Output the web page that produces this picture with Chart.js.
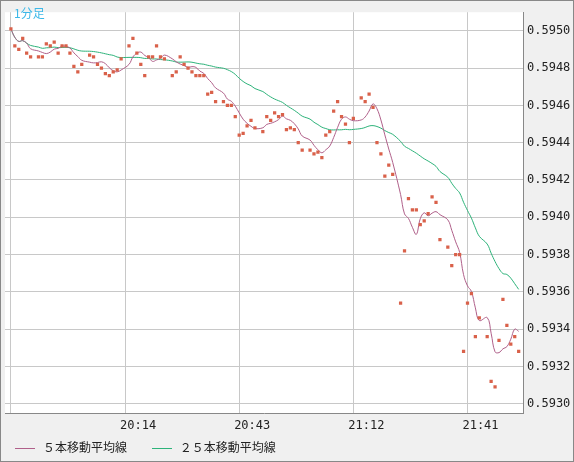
<!DOCTYPE html>
<html>
<head>
<meta charset="utf-8">
<script src="https://cdn.jsdelivr.net/npm/chart.js@4"></script>
<style>
  body { margin: 0; background: #f0f0f0; }
  #wrap { position: relative; width: 574px; height: 462px; box-sizing: border-box; border: 1px solid #888; }
  #title { position: absolute; left: 13px; top: 3px; color: #3cb8e8; font: 12px "Noto Sans CJK JP"; }
  #legend { position: absolute; left: 14px; top: 437px; font: 12px "Noto Sans CJK JP"; color: #222; }
  #legend span.ln { display: inline-block; width: 20px; height: 1px; vertical-align: middle; margin-right: 8px; }
</style>
</head>
<body>
<div id="wrap">
  <canvas id="c" width="572" height="460"></canvas>
  <div id="title">1分足</div>
  <div id="legend">
    <span class="ln" style="background:#b0608a"></span>５本移動平均線
    <span class="ln" style="background:#2db37a;margin-left:22px"></span>２５本移動平均線
  </div>
</div>
<script>
// minutes and closing prices
const times = ['19:45','19:46','19:47','19:48','19:49','19:50','19:52','19:53','19:54','19:55','19:56','19:57','19:58','19:59','20:00','20:01','20:02','20:03','20:05','20:06','20:07','20:08','20:09','20:10','20:11','20:12','20:13','20:15','20:16','20:17','20:18','20:19','20:20','20:21','20:22','20:23','20:24','20:26','20:27','20:28','20:29','20:30','20:31','20:32','20:33','20:34','20:35','20:36','20:37','20:39','20:40','20:41','20:42','20:43','20:44','20:45','20:46','20:47','20:49','20:50','20:51','20:52','20:53','20:54','20:55','20:56','20:57','20:58','20:59','21:01','21:02','21:03','21:04','21:05','21:06','21:07','21:08','21:09','21:10','21:11','21:12','21:14','21:15','21:16','21:17','21:18','21:19','21:20','21:21','21:22','21:24','21:25','21:26','21:27','21:28','21:29','21:30','21:31','21:32','21:33','21:34','21:36','21:37','21:38','21:39','21:40','21:41','21:42','21:43','21:44','21:46','21:47','21:48','21:49','21:50','21:51','21:52','21:53','21:54'];
const prices = [0.59501,0.59492,0.59490,0.59496,0.59488,0.59486,0.59486,0.59486,0.59493,0.59492,0.59494,0.59488,0.59492,0.59492,0.59488,0.59481,0.59478,0.59482,0.59487,0.59486,0.59482,0.59480,0.59477,0.59476,0.59478,0.59479,0.59485,0.59492,0.59496,0.59488,0.59482,0.59476,0.59486,0.59486,0.59492,0.59486,0.59485,0.59476,0.59478,0.59486,0.59482,0.59480,0.59478,0.59476,0.59476,0.59476,0.59466,0.59467,0.59462,0.59462,0.59460,0.59460,0.59454,0.59444,0.59445,0.59449,0.59452,0.59448,0.59446,0.59454,0.59452,0.59456,0.59454,0.59455,0.59447,0.59448,0.59447,0.59440,0.59436,0.59436,0.59434,0.59435,0.59432,0.59444,0.59446,0.59457,0.59462,0.59454,0.59450,0.59440,0.59453,0.59464,0.59462,0.59466,0.59459,0.59440,0.59434,0.59422,0.59428,0.59423,0.59354,0.59382,0.59410,0.59404,0.59404,0.59396,0.59398,0.59402,0.59411,0.59408,0.59388,0.59384,0.59374,0.59380,0.59380,0.59328,0.59354,0.59359,0.59336,0.59346,0.59336,0.59312,0.59309,0.59334,0.59356,0.59342,0.59332,0.59336,0.59328];
const tickLabels = ['19:45','20:14','20:43','21:12','21:41'];
const priceTicks = [0.5930,0.5932,0.5934,0.5936,0.5938,0.5940,0.5942,0.5944,0.5946,0.5948,0.5950];

const toMin = s => { const [h, m] = s.split(':').map(Number); return (h * 60 + m) - (19 * 60 + 45); };
const xs = times.map(toMin);

const movingAvg = n => prices.map((_, i) => {
  const part = prices.slice(Math.max(0, i - n + 1), i + 1);
  return part.reduce((a, b) => a + b, 0) / part.length;
});
const ma5 = movingAvg(5);
const ma25 = movingAvg(25);

const bgPlugin = {
  id: 'bg',
  beforeDraw(chart) {
    const { ctx, chartArea: a } = chart;
    ctx.save();
    ctx.fillStyle = '#fff';
    ctx.fillRect(a.left, a.top, a.right - a.left, a.bottom - a.top);
    ctx.restore();
  }
};

new Chart(document.getElementById('c'), {
  type: 'line',
  data: {
    datasets: [
      { data: xs.map((x, i) => ({ x, y: prices[i] })), showLine: false, pointStyle: 'rect',
        pointRadius: 2.3, backgroundColor: '#d9614a', borderWidth: 0 },
      { data: xs.map((x, i) => ({ x, y: ma5[i] })), borderColor: '#b0608a', borderWidth: 1,
        pointRadius: 0, tension: 0.4 },
      { data: xs.map((x, i) => ({ x, y: ma25[i] })), borderColor: '#2db37a', borderWidth: 1,
        pointRadius: 0, tension: 0.4 }
    ]
  },
  options: {
    responsive: false,
    animation: false,
    layout: { padding: { top: 0, left: 0 } },
    plugins: { legend: { display: false }, tooltip: { enabled: false } },
    scales: {
      x: {
        type: 'linear', min: -1.5, max: 130.1,
        afterBuildTicks: s => { s.ticks = tickLabels.map(t => ({ value: toMin(t) })); },
        afterFit: s => { s.height = 48; },
        grid: { color: '#c8c8c8', drawTicks: false },
        border: { color: '#888' },
        ticks: {
          callback: (v, i) => i === 0 ? '' : tickLabels[i],
          labelOffset: 13, padding: 6, maxRotation: 0, autoSkip: false,
          color: '#222', font: { family: 'DejaVu Sans Mono', size: 12 }
        }
      },
      y: {
        position: 'right', min: 0.59295, max: 0.59510,
        afterBuildTicks: s => { s.ticks = priceTicks.map(v => ({ value: v })); },
        afterFit: s => { s.width = 50; },
        grid: { color: '#c8c8c8', drawTicks: false },
        border: { color: '#888' },
        ticks: {
          callback: v => v.toFixed(4), padding: 4,
          color: '#222', font: { family: 'DejaVu Sans Mono', size: 12 }
        }
      }
    }
  },
  plugins: [bgPlugin]
});
</script>
</body>
</html>
